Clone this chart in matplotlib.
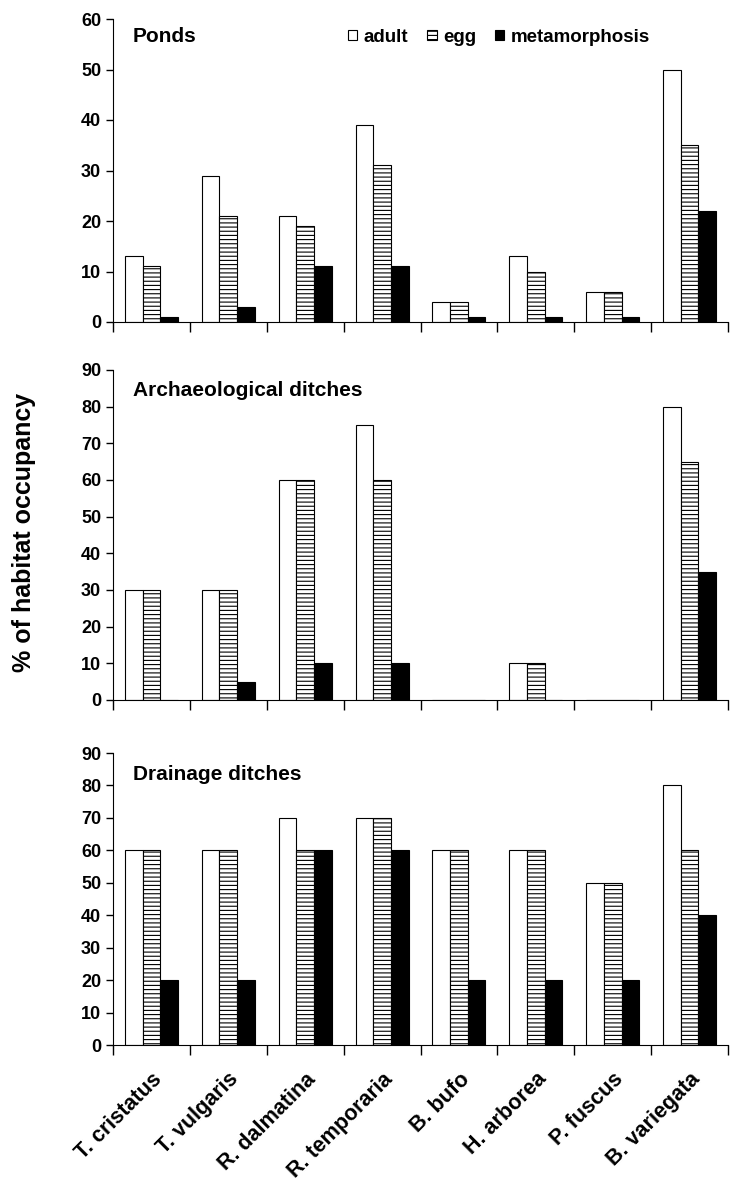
import numpy as np
import matplotlib
matplotlib.use("Agg")
import matplotlib.pyplot as plt

plt.rcParams['font.family'] = ['Liberation Sans', 'DejaVu Sans']
plt.rcParams['font.weight'] = 'bold'
plt.rcParams['hatch.linewidth'] = 0.8

species = ['T. cristatus', 'T. vulgaris', 'R. dalmatina', 'R. temporaria',
           'B. bufo', 'H. arborea', 'P. fuscus', 'B. variegata']
series = ['adult', 'egg', 'metamorphosis']

ponds_adult = [13, 29, 21, 39, 4, 13, 6, 50]
ponds_egg = [11, 21, 19, 31, 4, 10, 6, 35]
ponds_meta = [1, 3, 11, 11, 1, 1, 1, 22]

arch_adult = [30, 30, 60, 75, 0, 10, 0, 80]
arch_egg = [30, 30, 60, 60, 0, 10, 0, 65]
arch_meta = [0, 5, 10, 10, 0, 0, 0, 35]

drain_adult = [60, 60, 70, 70, 60, 60, 50, 80]
drain_egg = [60, 60, 60, 70, 60, 60, 50, 60]
drain_meta = [20, 20, 60, 60, 20, 20, 20, 40]

panels = [
    ('Ponds', [ponds_adult, ponds_egg, ponds_meta], 60),
    ('Archaeological ditches', [arch_adult, arch_egg, arch_meta], 90),
    ('Drainage ditches', [drain_adult, drain_egg, drain_meta], 90),
]

W, H = 730, 1189
fig = plt.figure(figsize=(W / 100, H / 100), dpi=100)
# pixel rows of each panel (top, bottom)
boxes = [(19, 322), (370, 700), (753, 1045)]
title_y = [37, 391, 775]
left, right = 113, 728

x = np.arange(len(species))
bw = 0.23
styles = [dict(facecolor='white', hatch=None),
          dict(facecolor='white', hatch='----'),
          dict(facecolor='black', hatch=None)]

axes = []
for (title, vals, ymax), (top, bot), ty in zip(panels, boxes, title_y):
    ax = fig.add_axes([left / W, 1 - bot / H, (right - left) / W, (bot - top) / H])
    for i, (v, st) in enumerate(zip(vals, styles)):
        ax.bar(x + (i - 1) * bw, v, width=bw, edgecolor='black', linewidth=0.8,
               label=series[i], **st)
    ax.set_xlim(-0.5, 7.5)
    ax.set_ylim(0, ymax)
    ax.set_yticks(np.arange(0, ymax + 1, 10))
    ax.set_xticks(x)
    ax.set_xticks(np.arange(-0.5, 8, 1), minor=True)
    ax.tick_params(axis='x', which='major', length=0)
    ax.tick_params(axis='x', which='minor', length=7, width=1)
    ax.tick_params(axis='y', length=5, width=1, labelsize=13)
    for lab in ax.get_yticklabels():
        lab.set_fontweight('bold')
    ax.spines['top'].set_visible(False)
    ax.spines['right'].set_visible(False)
    ax.text(20 / (right - left), 1 - (ty - top) / (bot - top), title,
            transform=ax.transAxes, fontsize=15, fontweight='bold',
            va='center', ha='left')
    ax.set_xticklabels([])
    axes.append(ax)

axes[0].legend(loc='center right', bbox_to_anchor=((667 - left) / (right - left), 1 - 18 / 303),
               ncol=3, frameon=False, handlelength=0.5, handleheight=0.5,
               handletextpad=0.35, columnspacing=1.0,
               prop={'weight': 'bold', 'size': 13.5})

axes[2].set_xticklabels(species, rotation=45, ha='right', rotation_mode='anchor',
                        fontsize=15.5, fontweight='bold')
axes[2].tick_params(axis='x', which='major', pad=17)

fig.text(24 / W, 1 - 532 / H, '% of habitat occupancy', rotation=90, ha='center',
         va='center', fontsize=18, fontweight='bold')

fig.savefig('out.png', dpi=100)
